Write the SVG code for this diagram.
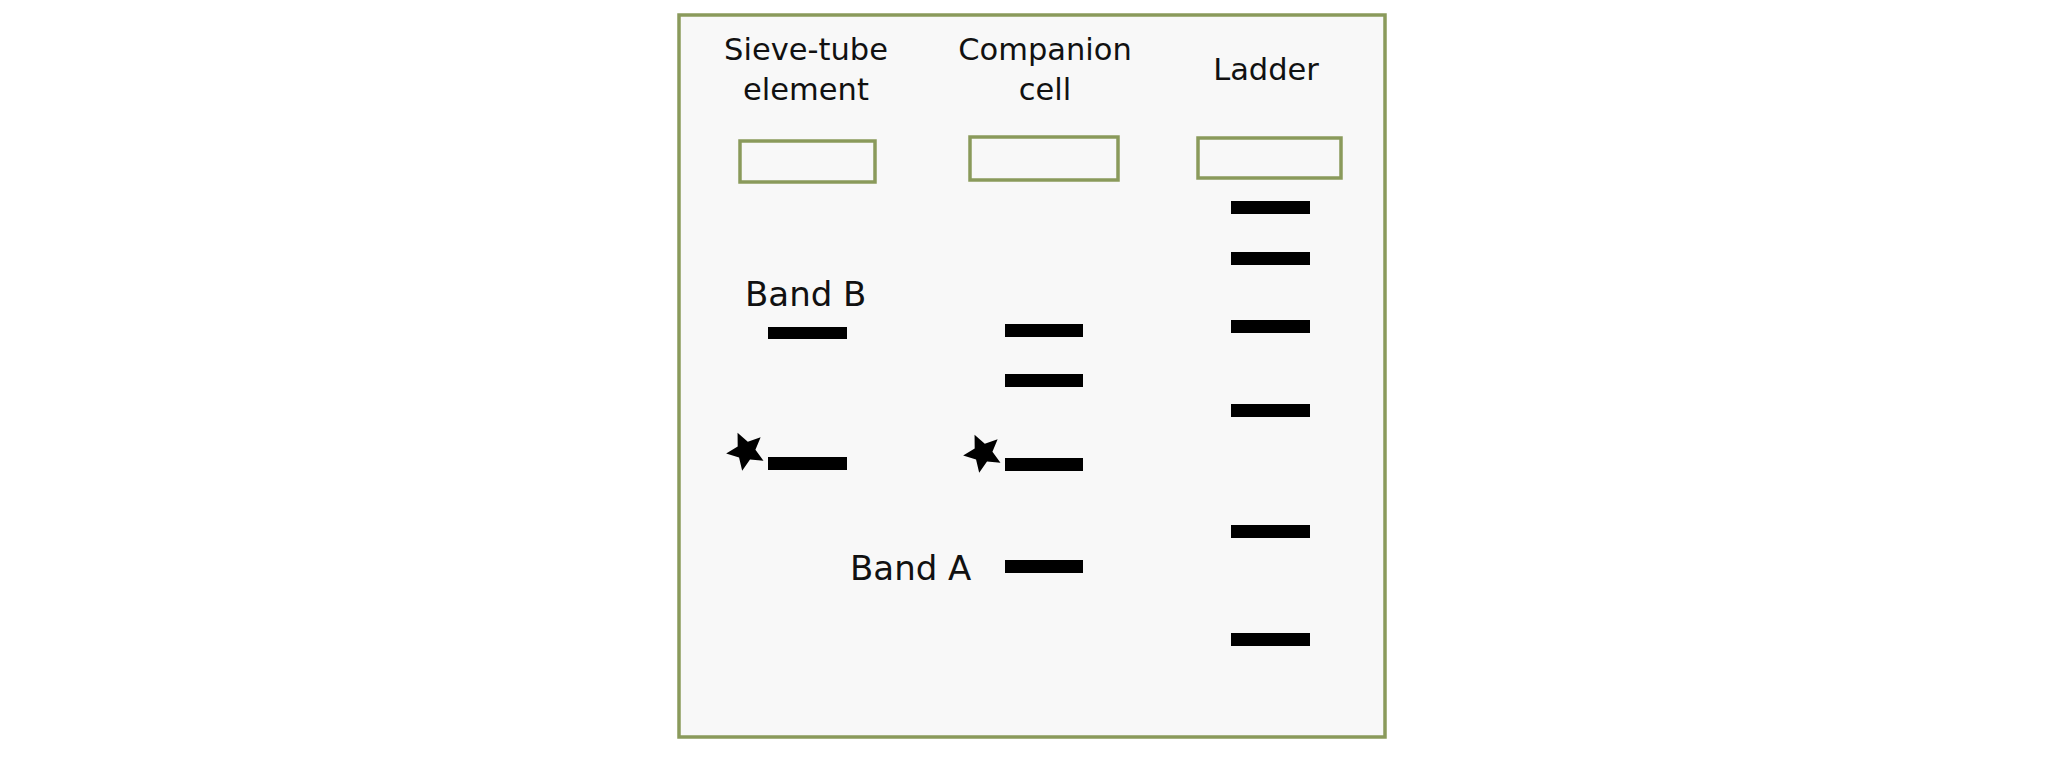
<svg xmlns="http://www.w3.org/2000/svg" xmlns:xlink="http://www.w3.org/1999/xlink" width="2068" height="757" viewBox="0 0 2068 757">
<style>
.frame{fill:#f8f8f8;stroke:#8a9a5b;stroke-width:3.5}
.well{fill:#f8f8f8;stroke:#8a9a5b;stroke-width:3.5}
.band{fill:#000}
.hd{font-family:"DejaVu Sans",Verdana,sans-serif;font-size:30.5px;fill:#111;text-anchor:middle}
.lb{font-family:"DejaVu Sans",Verdana,sans-serif;font-size:34px;fill:#111}
</style>
<defs>
<polygon id="star" points="-8.45,-18.13 1.81,-9.33 14.63,-13.64 9.43,-1.16 17.49,9.70 4.01,8.61 -3.82,19.63 -6.95,6.48 -19.85,2.44 -8.31,-4.61" fill="#000"/>
</defs>
<rect width="2068" height="757" fill="#fff"/>
<g id="gel">
<rect class="frame" x="679" y="15" width="706" height="722"/>
</g>
<g id="lane-sieve">
<text class="hd" x="806" y="60">Sieve-tube</text>
<text class="hd" x="806" y="100">element</text>
<rect class="well" x="740" y="141" width="135" height="41"/>
<text class="lb" x="745" y="306">Band B</text>
<rect class="band" x="768" y="327" width="79" height="12"/>
<rect class="band" x="768" y="457" width="79" height="13"/>
<use xlink:href="#star" href="#star" x="746" y="451"/>
</g>
<g id="lane-companion">
<text class="hd" x="1045" y="60">Companion</text>
<text class="hd" x="1045" y="100">cell</text>
<rect class="well" x="970" y="137" width="148" height="43"/>
<rect class="band" x="1005" y="324" width="78" height="13"/>
<rect class="band" x="1005" y="374" width="78" height="13"/>
<rect class="band" x="1005" y="458" width="78" height="13"/>
<use xlink:href="#star" href="#star" x="983" y="453"/>
<text class="lb" x="850" y="580">Band A</text>
<rect class="band" x="1005" y="560" width="78" height="13"/>
</g>
<g id="lane-ladder">
<text class="hd" x="1266" y="80">Ladder</text>
<rect class="well" x="1198" y="138" width="143" height="40"/>
<rect class="band" x="1231" y="201" width="79" height="13"/>
<rect class="band" x="1231" y="252" width="79" height="13"/>
<rect class="band" x="1231" y="320" width="79" height="13"/>
<rect class="band" x="1231" y="404" width="79" height="13"/>
<rect class="band" x="1231" y="525" width="79" height="13"/>
<rect class="band" x="1231" y="633" width="79" height="13"/>
</g>
<g id="connectors"></g>
</svg>
